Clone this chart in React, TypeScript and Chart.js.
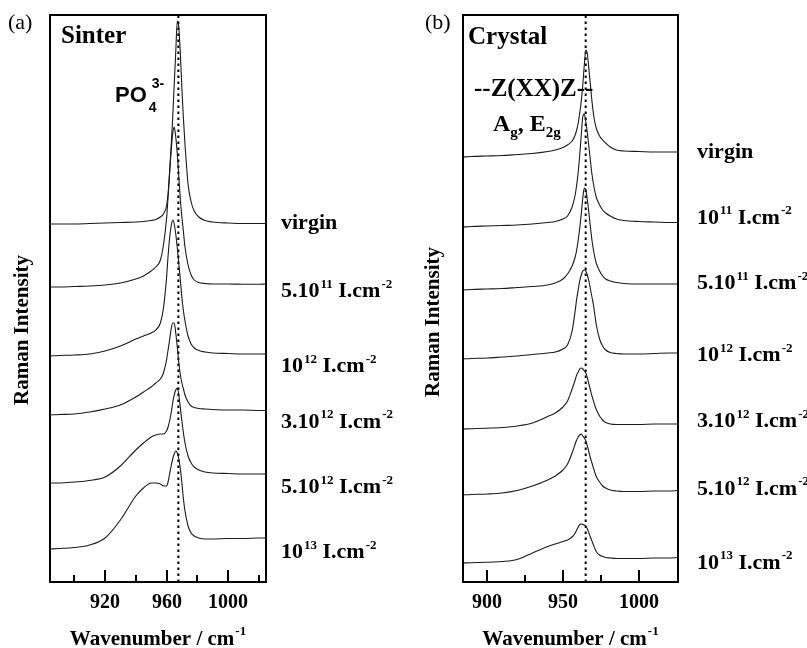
import React, { useEffect, useRef } from 'react';
import { Chart, registerables } from 'chart.js';

Chart.register(...registerables);

// ---------------- DATA ----------------
// Panel (a) Sinter : wavenumber grid (cm-1)
const sinterWavenumbers = [884, 890, 900, 910, 920, 930, 940, 945, 950, 953, 956, 958, 960, 961, 962, 963, 964, 965, 966, 967, 968, 969, 970, 971, 972, 974, 976, 978, 981, 985, 990, 1000, 1010, 1020, 1025];
const sinterVirgin = [0, 0, 0, 0.5, 1, 1.5, 2, 2.5, 3.5, 4.5, 7, 10, 18, 30, 52, 78, 106, 140, 172, 203, 196, 170, 135, 105, 80, 40, 22, 13, 7, 3.5, 2, 1, 0.5, 0.5, 0.5];
const sinter5e11 = [0, 0, 0.5, 1, 2, 4, 8, 11, 16, 20, 27, 42, 68, 90, 114, 136, 153, 160, 150, 133, 110, 87, 70, 55, 40, 22, 12, 7, 4.5, 3.5, 3, 3, 2.8, 2.8, 3];
const sinter1e12 = [0, 0.5, 1, 2, 5, 10, 17, 20, 23, 26, 33, 48, 78, 100, 118, 130, 136, 132, 122, 108, 92, 76, 58, 45, 35, 20, 12, 8, 5.5, 4, 3, 2.5, 2, 2, 2];
const sinter3e12 = [0, 0.5, 1, 3, 6, 10, 18, 23, 28, 32, 36, 42, 55, 65, 75, 86, 92, 92, 82, 68, 52, 40, 32, 26, 20, 13, 9, 7.5, 6.5, 6, 5.5, 5, 5, 4.5, 4.5];
const sinter5e12 = [0, 0, 1, 2.5, 6, 17, 33, 40, 46, 48, 49, 49, 52, 56, 62, 70, 80, 88, 93, 95, 88, 75, 62, 50, 40, 27, 20, 16, 13, 11, 10, 9.5, 9, 9, 9];
const sinter1e13 = [0, 0.5, 1.5, 4, 11, 29, 53, 61, 66, 66, 65, 63, 63, 67, 75, 83, 90, 95, 98, 96, 90, 80, 66, 50, 38, 23, 16, 13, 11, 10, 10, 10.5, 10.5, 11, 11];
const sinterOffsets = [358, 295, 226, 167, 99, 33];
const sinterLabels = ['virgin', '5.10^{11} I.cm^{-2}', '10^{12} I.cm^{-2}', '3.10^{12} I.cm^{-2}', '5.10^{12} I.cm^{-2}', '10^{13} I.cm^{-2}'];
const sinterTicks = [900, 920, 940, 960, 980, 1000, 1020];
const sinterTickLabels = ['', '920', '', '960', '', '1000', ''];
const sinterPeakPosition = 967.7;

// Panel (b) Crystal
const crystalWavenumbers = [884, 890, 900, 910, 920, 930, 940, 945, 950, 953, 956, 958, 959, 960, 961, 962, 963, 964, 965, 966, 967, 968, 969, 970, 971, 972, 974, 976, 978, 981, 985, 990, 1000, 1010, 1020, 1025];
const crystalVirgin = [0, 0.5, 1, 1.5, 2.5, 3.5, 5.5, 7, 9.5, 12, 16, 22, 27, 34, 44, 56, 72, 92, 107, 103, 88, 72, 56, 43, 34, 28, 21, 17, 14, 10, 7, 6, 5.5, 5, 5, 5];
const crystal1e11 = [0, 0.5, 1, 1.5, 2, 3, 4.5, 5.5, 8, 11, 20, 32, 42, 55, 72, 92, 110, 113, 105, 94, 80, 66, 53, 43, 35, 29, 22, 17, 14, 11, 8, 6.5, 5.5, 5, 4.5, 4.5];
const crystal5e11 = [0, 0.5, 1, 1.5, 2.5, 3.5, 5, 7, 11, 16, 24, 33, 40, 50, 62, 76, 92, 102, 100, 90, 77, 63, 50, 40, 32, 26, 19, 14, 11, 9, 7.5, 6.5, 6, 6, 6, 6];
const crystal1e12 = [0, 0.5, 1, 2, 3, 4.5, 6, 7, 10, 14, 28, 48, 60, 69, 78, 84, 88, 89, 88, 84, 78, 70, 62, 54, 43, 33, 20, 13, 9, 6.5, 5.5, 5, 5, 5.5, 6, 6];
const crystal3e12 = [0, 0.3, 0.8, 1.5, 3, 6, 12.5, 16, 22, 28, 40, 49, 54, 57, 60, 61, 60, 58, 56, 51, 45, 39, 33, 28, 23, 19, 13, 9, 6.5, 5, 4.5, 4.5, 4.5, 5, 5, 5];
const crystal5e12 = [0, 0.5, 1, 2, 4.5, 9, 15, 19, 25, 31, 42, 51, 55, 58, 60, 61, 59, 57, 54, 49, 43, 37, 32, 27, 22, 18, 13, 9, 7, 5, 4, 3.5, 3.5, 4, 4, 4.5];
const crystal1e13 = [0, 0.3, 0.7, 1.5, 3.5, 10, 16.5, 19, 21.5, 23, 26, 30, 33, 36, 38.5, 39, 38.5, 38, 37, 34, 30, 26, 22, 18, 14, 11, 8, 6.5, 5.5, 5, 4.5, 4.5, 4.5, 5, 5, 5.5];
const crystalOffsets = [425, 355, 292, 223, 153, 87, 19];
const crystalLabels = ['virgin', '10^{11} I.cm^{-2}', '5.10^{11} I.cm^{-2}', '10^{12} I.cm^{-2}', '3.10^{12} I.cm^{-2}', '5.10^{12} I.cm^{-2}', '10^{13} I.cm^{-2}'];
const crystalTicks = [900, 925, 950, 975, 1000];
const crystalTickLabels = ['900', '', '950', '', '1000'];
const crystalPeakPosition = 964.9;

const intensityRange = [0, 567];

// label placement nudges (layout, in px)
const sinterLabelNudge = [-5, 3, 8, 7, 9, 10];
const crystalLabelNudge = [1, -4, 0, 3, -2, -1, 6];

// ---------------- TEXT HELPERS ----------------
const SERIF = '"Liberation Serif", "Times New Roman", serif';
const SANS = '"Liberation Sans", Arial, sans-serif';

type Seg = { t: string; k: 'n' | 'sup' | 'sub' };
function parseRich(s: string): Seg[] {
  const out: Seg[] = [];
  let buf = '';
  let i = 0;
  while (i < s.length) {
    const c = s[i];
    if ((c === '^' || c === '_') && s[i + 1] === '{') {
      if (buf) { out.push({ t: buf, k: 'n' }); buf = ''; }
      const end = s.indexOf('}', i + 2);
      out.push({ t: s.slice(i + 2, end), k: c === '^' ? 'sup' : 'sub' });
      i = end + 1;
    } else { buf += c; i++; }
  }
  if (buf) out.push({ t: buf, k: 'n' });
  return out;
}

interface RichStyle { family: string; weight: string; size: number; script: number; rise: number; drop: number; stack?: boolean; stackShift?: number; gap?: number }

function drawRich(ctx: CanvasRenderingContext2D, text: string, x: number, y: number, st: RichStyle, align: 'left' | 'center' = 'left') {
  const segs = parseRich(text);
  const font = (sz: number) => `${st.weight} ${sz}px ${st.family}`;
  const placed: { s: Seg; px: number; sz: number }[] = [];
  let pos = 0;
  let prev: string = 'n';
  let scriptStart = 0;
  let scriptEnd = 0;
  const gap = st.gap ?? 1;
  for (const s of segs) {
    const sz = s.k === 'n' ? st.size : st.script;
    ctx.font = font(sz);
    const w = ctx.measureText(s.t).width;
    let px: number;
    if (st.stack && s.k !== 'n' && prev !== 'n' && prev !== s.k) {
      px = scriptStart + (st.stackShift ?? 0);
      pos = Math.max(scriptEnd, px + w);
    } else if (s.k !== 'n') {
      px = pos + gap;
      scriptStart = px;
      pos = px + w;
    } else {
      px = pos;
      pos = px + w;
    }
    if (s.k !== 'n') scriptEnd = pos;
    placed.push({ s, px, sz });
    prev = s.k;
  }
  const x0 = align === 'center' ? x - pos / 2 : x;
  ctx.textAlign = 'left';
  ctx.textBaseline = 'alphabetic';
  for (const p of placed) {
    ctx.font = font(p.sz);
    const dy = p.s.k === 'sup' ? -st.rise : p.s.k === 'sub' ? st.drop : 0;
    ctx.fillText(p.s.t, x0 + p.px, y + dy);
  }
}

// ---------------- PANELS ----------------
interface Panel {
  x: number[];
  series: number[][];
  offsets: number[];
  labels: string[];
  labelNudge: number[];
  ticks: number[];
  tickLabels: string[];
  peak: number;
  xMin: number;
  xMax: number;
  canvasLeft: number;
  canvasWidth: number;
  padding: { left: number; right: number; top: number; bottom: number };
  letter: string;
  letterDx: number;
  title: string;
  titleDx: number;
  titleDy: number;
  labelDx: number;
  labelDy: number;
  yTitleDx: number;
  yTitleCy: number;
  annotate: (ctx: CanvasRenderingContext2D, a: { left: number; top: number }) => void;
}

const panels: Panel[] = [
  {
    x: sinterWavenumbers,
    series: [sinterVirgin, sinter5e11, sinter1e12, sinter3e12, sinter5e12, sinter1e13],
    offsets: sinterOffsets,
    labels: sinterLabels,
    labelNudge: sinterLabelNudge,
    ticks: sinterTicks,
    tickLabels: sinterTickLabels,
    peak: sinterPeakPosition,
    xMin: 884.2,
    xMax: 1024.7,
    canvasLeft: 0,
    canvasWidth: 410,
    padding: { left: 50, right: 144, top: 15, bottom: 66 },
    letter: '(a)',
    letterDx: -42,
    title: 'Sinter',
    titleDx: 11,
    titleDy: 28,
    labelDx: 15,
    labelDy: 10,
    yTitleDx: -22,
    yTitleCy: 315,
    annotate: (ctx, a) => {
      ctx.fillStyle = '#000';
      drawRich(ctx, 'PO_{4}^{3-}', a.left + 65, a.top + 87, { family: SANS, weight: 'bold', size: 22, script: 14, rise: 14, drop: 10, stack: true, stackShift: 3, gap: 2 });
    },
  },
  {
    x: crystalWavenumbers,
    series: [crystalVirgin, crystal1e11, crystal5e11, crystal1e12, crystal3e12, crystal5e12, crystal1e13],
    offsets: crystalOffsets,
    labels: crystalLabels,
    labelNudge: crystalLabelNudge,
    ticks: crystalTicks,
    tickLabels: crystalTickLabels,
    peak: crystalPeakPosition,
    xMin: 884.5,
    xMax: 1025.4,
    canvasLeft: 410,
    canvasWidth: 397,
    padding: { left: 53, right: 129, top: 15, bottom: 66 },
    letter: '(b)',
    letterDx: -38,
    title: 'Crystal',
    titleDx: 5,
    titleDy: 29,
    labelDx: 19,
    labelDy: 5,
    yTitleDx: -24,
    yTitleCy: 307,
    annotate: (ctx, a) => {
      ctx.fillStyle = '#000';
      ctx.font = `bold 25px ${SERIF}`;
      ctx.textAlign = 'left';
      ctx.textBaseline = 'alphabetic';
      ctx.fillText('--Z(XX)Z--', a.left + 11, a.top + 81);
      drawRich(ctx, 'A_{g}, E_{2g}', a.left + 30, a.top + 116, { family: SERIF, weight: 'bold', size: 24, script: 15, rise: 0, drop: 6, gap: 0 });
    },
  },
];

function decorPlugin(p: Panel) {
  return {
    id: 'decor',
    afterDraw(chart: any) {
      const { ctx, chartArea: a, scales } = chart;
      const xs = scales.x;
      const ys = scales.y;
      ctx.save();
      ctx.fillStyle = '#000';
      ctx.strokeStyle = '#000';
      ctx.lineWidth = 2;
      ctx.setLineDash([]);
      ctx.strokeRect(a.left, a.top, a.right - a.left, a.bottom - a.top);
      // inward ticks + labels
      p.ticks.forEach((t, i) => {
        const px = Math.round(xs.getPixelForValue(t));
        const major = p.tickLabels[i] !== '';
        const len = major ? 12 : 7;
        ctx.beginPath();
        ctx.moveTo(px, a.bottom);
        ctx.lineTo(px, a.bottom - len);
        ctx.stroke();
        if (major) {
          ctx.font = `bold 20px ${SERIF}`;
          ctx.textAlign = 'center';
          ctx.textBaseline = 'alphabetic';
          ctx.fillText(p.tickLabels[i], px, a.bottom + 26);
        }
      });
      // x title
      drawRich(ctx, 'Wavenumber / cm^{-1}', (a.left + a.right) / 2, a.bottom + 63, { family: SERIF, weight: 'bold', size: 21, script: 13, rise: 10, drop: 0, gap: 1 }, 'center');
      // y title
      ctx.save();
      ctx.translate(a.left + p.yTitleDx, a.top + p.yTitleCy);
      ctx.rotate(-Math.PI / 2);
      ctx.font = `bold 21px ${SERIF}`;
      ctx.textAlign = 'center';
      ctx.textBaseline = 'alphabetic';
      ctx.fillText('Raman Intensity', 0, 0);
      ctx.restore();
      // panel letter & title
      ctx.font = `normal 22px ${SERIF}`;
      ctx.textAlign = 'left';
      ctx.fillText(p.letter, a.left + p.letterDx, a.top + 14);
      ctx.font = `bold 25px ${SERIF}`;
      ctx.fillText(p.title, a.left + p.titleDx, a.top + p.titleDy);
      // series labels
      p.labels.forEach((lab, i) => {
        const vals = p.series[i];
        const yv = ys.getPixelForValue(vals[vals.length - 1] + p.offsets[i]) + p.labelDy + p.labelNudge[i];
        drawRich(ctx, lab, a.right + p.labelDx, yv, { family: SERIF, weight: 'bold', size: 22, script: 13, rise: 9.5, drop: 0, gap: 1 });
      });
      p.annotate(ctx, a);
      ctx.restore();
    },
  };
}

function buildConfig(p: Panel): any {
  const datasets: any[] = p.series.map((vals, i) => ({
    data: p.x.map((x, j) => ({ x, y: vals[j] + p.offsets[i] })),
    borderColor: '#1a1a1a',
    borderWidth: 1.1,
    pointRadius: 0,
    fill: false,
    cubicInterpolationMode: 'monotone',
  }));
  datasets.push({
    data: [{ x: p.peak, y: intensityRange[0] }, { x: p.peak, y: intensityRange[1] }],
    borderColor: '#000',
    borderWidth: 2,
    borderDash: [2.5, 3.5],
    pointRadius: 0,
    fill: false,
  });
  return {
    type: 'line',
    data: { datasets },
    options: {
      animation: false,
      responsive: false,
      devicePixelRatio: 1,
      events: [],
      layout: { padding: p.padding },
      plugins: { legend: { display: false }, tooltip: { enabled: false }, title: { display: false } },
      scales: {
        x: { type: 'linear', min: p.xMin, max: p.xMax, display: false },
        y: { type: 'linear', min: intensityRange[0], max: intensityRange[1], display: false },
      },
    },
    plugins: [decorPlugin(p)],
  };
}

function PanelCanvas({ p }: { p: Panel }) {
  const ref = useRef<HTMLCanvasElement | null>(null);
  useEffect(() => {
    if (!ref.current) return;
    const chart = new Chart(ref.current, buildConfig(p));
    return () => chart.destroy();
  }, [p]);
  return (
    <canvas
      ref={ref}
      width={p.canvasWidth}
      height={648}
      style={{ position: 'absolute', left: p.canvasLeft, top: 0, width: p.canvasWidth, height: 648 }}
    />
  );
}

export default function App() {
  return (
    <div style={{ position: 'absolute', left: 0, top: 0, width: 807, height: 648, background: '#fff', overflow: 'hidden' }}>
      {panels.map((p, i) => (
        <PanelCanvas key={i} p={p} />
      ))}
    </div>
  );
}
